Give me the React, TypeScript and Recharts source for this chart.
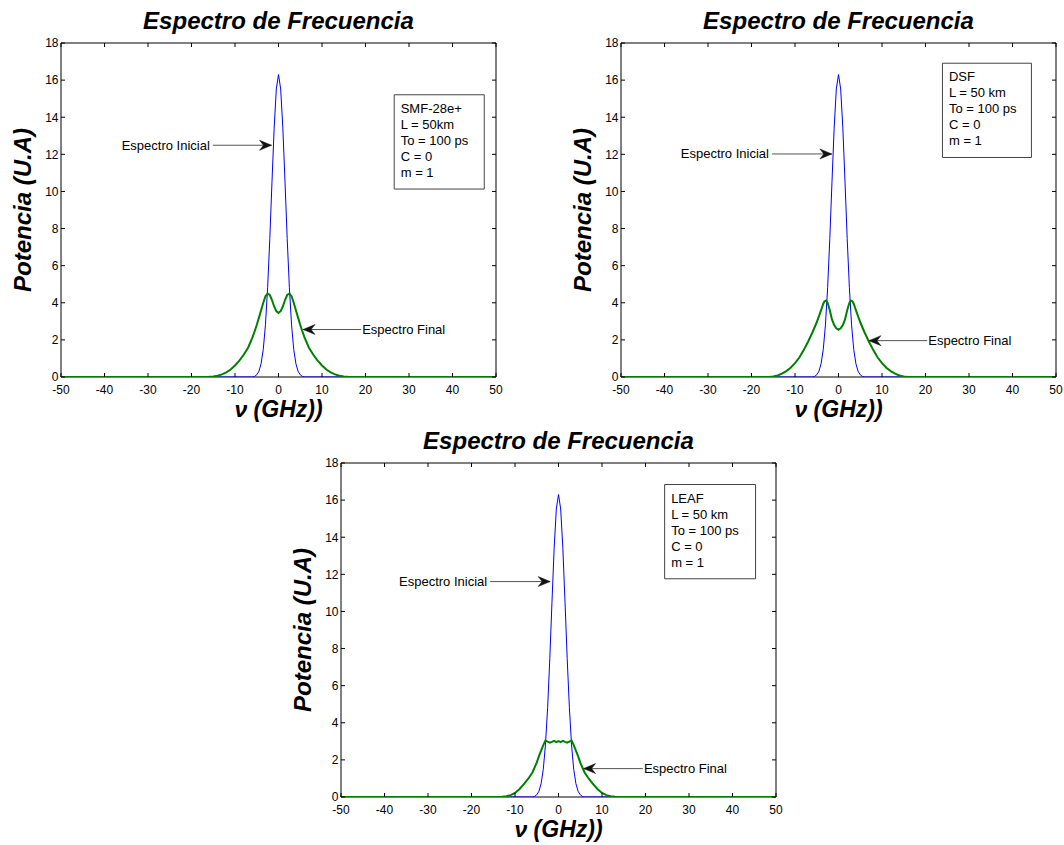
import React from 'react';
import { LineChart, Line, XAxis, YAxis, ReferenceArea, ReferenceLine } from 'recharts';

const FONT = '"Liberation Sans", Arial, Helvetica, sans-serif';

// ---- axis ticks & labels ----
const xTicks = [-50, -40, -30, -20, -10, 0, 10, 20, 30, 40, 50];
const yTicks = [0, 2, 4, 6, 8, 10, 12, 14, 16, 18];
const titleText = 'Espectro de Frecuencia';
const yLabelText = 'Potencia (U.A)';
const xLabelText = 'ν (GHz))';
const inicialText = 'Espectro Inicial';
const finalText = 'Espectro Final';

// ---- Espectro Inicial (blue, same pulse for all fibres) ----
const initialX = [-50, -6, -5.5, -5, -4.5, -4, -3.5, -3, -2.5, -2, -1.5, -1, -0.5, 0, 0.5, 1, 1.5, 2, 2.5, 3, 3.5, 4, 4.5, 5, 5.5, 6, 50];
const initialY = [0, 0, 0.03, 0.12, 0.31, 0.72, 1.49, 2.81, 4.81, 7.46, 10.5, 13.41, 15.52, 16.3, 15.52, 13.41, 10.5, 7.46, 4.81, 2.81, 1.49, 0.72, 0.31, 0.12, 0.03, 0, 0];

// ---- Espectro Final (green) ----
const smfX = [-50, -17, -16, -15, -14, -13, -12, -11, -10, -9, -8, -7, -6, -5.5, -5, -4.5, -4, -3.5, -3, -2.5, -2, -1.5, -1, -0.5, 0,
  0.5, 1, 1.5, 2, 2.5, 3, 3.5, 4, 4.5, 5, 5.5, 6, 7, 8, 9, 10, 11, 12, 13, 14, 15, 16, 17, 50];
const smfY = [0, 0, 0.01, 0.03, 0.07, 0.14, 0.25, 0.4, 0.62, 0.88, 1.2, 1.58, 2.12, 2.45, 2.8, 3.2, 3.6, 4.0, 4.35, 4.5, 4.42, 4.15, 3.8, 3.55, 3.45,
  3.55, 3.8, 4.15, 4.42, 4.5, 4.35, 4.0, 3.6, 3.2, 2.8, 2.45, 2.12, 1.58, 1.2, 0.88, 0.62, 0.4, 0.25, 0.14, 0.07, 0.03, 0.01, 0, 0];

const dsfX = [-50, -16, -15, -14, -13, -12, -11, -10, -9, -8, -7, -6, -5, -4, -3.5, -3.2, -2.8, -2.5, -2, -1.5, -1, -0.5, 0,
  0.5, 1, 1.5, 2, 2.5, 2.8, 3.2, 3.5, 4, 5, 6, 7, 8, 9, 10, 11, 12, 13, 14, 15, 16, 50];
const dsfY = [0, 0, 0.03, 0.08, 0.18, 0.32, 0.5, 0.75, 1.05, 1.45, 1.9, 2.4, 2.95, 3.6, 3.95, 4.08, 4.12, 4.0, 3.6, 3.1, 2.8, 2.62, 2.54,
  2.62, 2.8, 3.1, 3.6, 4.0, 4.12, 4.08, 3.95, 3.6, 2.95, 2.4, 1.9, 1.45, 1.05, 0.75, 0.5, 0.32, 0.18, 0.08, 0.03, 0, 0];

const leafX = [-50, -14, -13, -12, -11, -10, -9, -8, -7, -6, -5, -4.5, -4, -3.5, -3, -2.5, -2, -1.5, -1, -0.5, 0,
  0.5, 1, 1.5, 2, 2.5, 3, 3.5, 4, 4.5, 5, 6, 7, 8, 9, 10, 11, 12, 13, 14, 50];
const leafY = [0, 0, 0.01, 0.04, 0.1, 0.22, 0.42, 0.68, 0.97, 1.32, 1.85, 2.2, 2.5, 2.8, 3.04, 2.98, 2.93, 2.97, 3.03, 2.96, 3.01,
  2.96, 3.03, 2.97, 2.93, 2.98, 3.04, 2.8, 2.5, 2.2, 1.85, 1.32, 0.97, 0.68, 0.42, 0.22, 0.1, 0.04, 0.01, 0, 0];

// ---- text boxes ----
const smfBoxLines = ['SMF-28e+', 'L = 50km', 'To = 100 ps', 'C = 0', 'm = 1'];
const dsfBoxLines = ['DSF', 'L = 50 km', 'To = 100 ps', 'C = 0', 'm = 1'];
const leafBoxLines = ['LEAF', 'L = 50 km', 'To = 100 ps', 'C = 0', 'm = 1'];

// box extents in data units [x1, x2, y1, y2]
const smfBox = [26.6, 47.3, 10.13, 15.21];
const dsfBox = [23.9, 44.35, 11.83, 16.91];
const leafBox = [24.4, 45.3, 11.76, 16.84];

// arrows [y, xStart, xEnd]
const smfInicialArrow = [12.49, -15.1, -1.6];
const smfFinalArrow = [2.56, 5.64, 19.0];
const dsfInicialArrow = [12.02, -15.3, -1.53];
const dsfFinalArrow = [1.96, 7.0, 20.4];
const leafInicialArrow = [11.61, -15.7, -1.92];
const leafFinalArrow = [1.53, 5.76, 19.4];

const toPoints = (xs: number[], ys: number[]) => xs.map((x, i) => ({ x, y: ys[i] }));

// ---- layout ----
const PW = 435;
const PH = 334;
const ML = 61;
const MT = 43;
const MR = 8;
const MB = 45;
const AX = 1; // axis band thickness

const XTick = (props: any) => {
  const { x, y, payload } = props;
  return (
    <g>
      <line x1={x} y1={y} x2={x} y2={y - 4} stroke="#000" strokeWidth={1} />
      <line x1={x} y1={y - PH} x2={x} y2={y - PH + 4} stroke="#000" strokeWidth={1} />
      <text x={x} y={y + 16.5} textAnchor="middle" fontSize={12} fontFamily={FONT} fill="#000">
        {payload.value}
      </text>
    </g>
  );
};

const YTick = (props: any) => {
  const { x, y, payload } = props;
  return (
    <g>
      <line x1={x} y1={y} x2={x + 4} y2={y} stroke="#000" strokeWidth={1} />
      <line x1={x + PW} y1={y} x2={x + PW - 4} y2={y} stroke="#000" strokeWidth={1} />
      <text x={x - 2.5} y={y + 4.3} textAnchor="end" fontSize={12} fontFamily={FONT} fill="#000">
        {payload.value}
      </text>
    </g>
  );
};

const boxLabel = (lines: string[]) => (props: any) => {
  const vb = props.viewBox || {};
  return (
    <g>
      {lines.map((t, i) => (
        <text key={i} x={vb.x + 6.5} y={vb.y + 18 + i * 16} fontSize={13} fontFamily={FONT} fill="#000">
          {t}
        </text>
      ))}
    </g>
  );
};

const arrowLabel = (text: string, dir: 'right' | 'left') => (props: any) => {
  const vb = props.viewBox || {};
  const y = vb.y;
  const tipX = dir === 'right' ? vb.x + vb.width : vb.x;
  const s = dir === 'right' ? -1 : 1;
  const head = `M${tipX},${y} L${tipX + s * 12},${y - 5} L${tipX + s * 8},${y} L${tipX + s * 12},${y + 5} Z`;
  return (
    <g>
      <path d={head} fill="#111" stroke="#111" strokeWidth={0.5} />
      {dir === 'right' ? (
        <text x={vb.x - 3} y={y + 4.5} textAnchor="end" fontSize={13} fontFamily={FONT} fill="#000">
          {text}
        </text>
      ) : (
        <text x={vb.x + vb.width + 1} y={y + 4.5} textAnchor="start" fontSize={13} fontFamily={FONT} fill="#000">
          {text}
        </text>
      )}
    </g>
  );
};

type PanelProps = {
  left: number;
  top: number;
  finalData: { x: number; y: number }[];
  box: number[];
  boxLines: string[];
  ini: number[];
  fin: number[];
};

function Panel({ left, top, finalData, box, boxLines, ini, fin }: PanelProps) {
  const W = ML + PW + MR;
  const H = MT + PH + MB;
  const initialData = toPoints(initialX, initialY);
  return (
    <div style={{ position: 'absolute', left: left - ML, top: top - MT, width: W, height: H }}>
      <LineChart width={W} height={H} margin={{ left: ML - AX, top: MT, right: MR, bottom: MB - AX }}>
        <XAxis
          type="number"
          dataKey="x"
          domain={[-50, 50]}
          ticks={xTicks}
          interval={0}
          height={AX}
          tickSize={0}
          tickMargin={0}
          axisLine={false}
          tickLine={false}
          tick={<XTick />}
          allowDataOverflow
        />
        <YAxis
          type="number"
          domain={[0, 18]}
          ticks={yTicks}
          interval={0}
          width={AX}
          tickSize={0}
          tickMargin={0}
          axisLine={false}
          tickLine={false}
          tick={<YTick />}
          allowDataOverflow
        />
        <ReferenceArea x1={-50} x2={50} y1={0} y2={18} fill="none" fillOpacity={0} stroke="#000" strokeWidth={1} ifOverflow="visible" />
        <ReferenceArea
          x1={box[0]}
          x2={box[1]}
          y1={box[2]}
          y2={box[3]}
          fill="#fff"
          fillOpacity={1}
          stroke="#444"
          strokeWidth={1}
          label={boxLabel(boxLines)}
        />
        <Line data={initialData} dataKey="y" type="linear" stroke="#0000ff" strokeWidth={1} dot={false} isAnimationActive={false} />
        <Line data={finalData} dataKey="y" type="linear" stroke="#008000" strokeWidth={2} dot={false} isAnimationActive={false} />
        <ReferenceLine
          segment={[{ x: ini[1], y: ini[0] }, { x: ini[2], y: ini[0] }]}
          stroke="#555"
          strokeWidth={1}
          label={arrowLabel(inicialText, 'right')}
        />
        <ReferenceLine
          segment={[{ x: fin[1], y: fin[0] }, { x: fin[2], y: fin[0] }]}
          stroke="#555"
          strokeWidth={1}
          label={arrowLabel(finalText, 'left')}
        />
      </LineChart>
    </div>
  );
}

const panelOrigins = [
  [61, 43],
  [621, 43],
  [341, 463],
];

export default function App() {
  return (
    <div style={{ position: 'absolute', left: 0, top: 0, width: 1064, height: 845, background: '#fff', overflow: 'hidden' }}>
      <Panel left={panelOrigins[0][0]} top={panelOrigins[0][1]} finalData={toPoints(smfX, smfY)} box={smfBox} boxLines={smfBoxLines} ini={smfInicialArrow} fin={smfFinalArrow} />
      <Panel left={panelOrigins[1][0]} top={panelOrigins[1][1]} finalData={toPoints(dsfX, dsfY)} box={dsfBox} boxLines={dsfBoxLines} ini={dsfInicialArrow} fin={dsfFinalArrow} />
      <Panel left={panelOrigins[2][0]} top={panelOrigins[2][1]} finalData={toPoints(leafX, leafY)} box={leafBox} boxLines={leafBoxLines} ini={leafInicialArrow} fin={leafFinalArrow} />
      <svg width={1064} height={845} style={{ position: 'absolute', left: 0, top: 0, pointerEvents: 'none' }}>
        {panelOrigins.map(([px, py], i) => (
          <g key={i} fontFamily={FONT} fontWeight="bold" fontStyle="italic" fill="#000">
            <text x={px + PW / 2} y={py - 14} textAnchor="middle" fontSize={24}>
              {titleText}
            </text>
            <text x={px + PW / 2} y={py + PH + 40} textAnchor="middle" fontSize={23}>
              {xLabelText}
            </text>
            <text transform={`translate(${px - 30}, ${py + PH / 2}) rotate(-90)`} textAnchor="middle" fontSize={24}>
              {yLabelText}
            </text>
          </g>
        ))}
      </svg>
    </div>
  );
}
